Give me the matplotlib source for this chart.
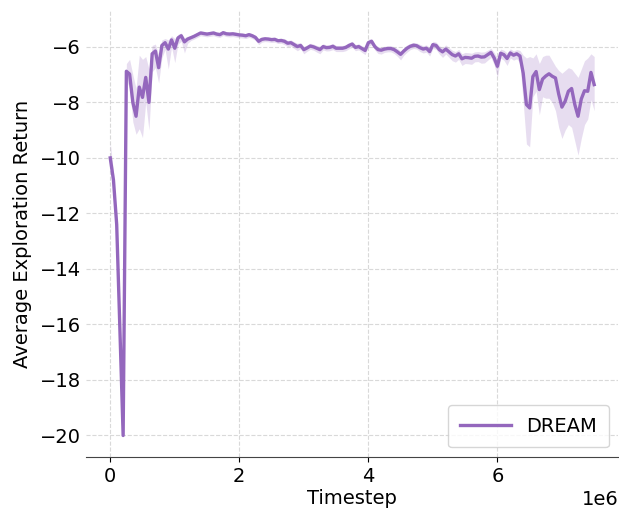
import numpy as np
import matplotlib
matplotlib.use("Agg")
import matplotlib.pyplot as plt

# evaluation every 50k steps
timesteps = np.arange(0, 7_550_000, 50_000)

mean_return = [
    -10.0, -10.8, -12.4, -16.2, -20.0, -6.88, -6.98, -8.0, -8.5, -7.45,
    -7.82, -7.1, -8.0, -6.25, -6.15, -6.75, -5.95, -5.85, -6.08, -5.75,
    -6.05, -5.68, -5.6, -5.82, -5.72, -5.67, -5.62, -5.56, -5.5, -5.52,
    -5.54, -5.52, -5.5, -5.54, -5.56, -5.49, -5.53, -5.54, -5.53, -5.55,
    -5.57, -5.58, -5.6, -5.56, -5.6, -5.66, -5.8, -5.73, -5.71, -5.72,
    -5.74, -5.73, -5.78, -5.77, -5.8, -5.87, -5.85, -5.92, -5.99, -5.95,
    -6.1, -6.04, -5.97, -6.0, -6.05, -6.1, -5.99, -6.03, -6.02, -5.98,
    -6.05, -6.05, -6.05, -6.02, -5.95, -5.9, -6.02, -5.99, -6.06, -6.13,
    -5.85, -5.8, -5.99, -6.1, -6.12, -6.08, -6.06, -6.06, -6.1, -6.18,
    -6.27, -6.15, -6.05, -5.98, -5.94, -5.96, -6.03, -6.08, -6.05, -6.17,
    -5.92, -5.95, -6.1, -6.18, -6.08, -6.18, -6.28, -6.33, -6.25, -6.43,
    -6.38, -6.39, -6.41, -6.34, -6.33, -6.37, -6.36, -6.28, -6.2, -6.4,
    -6.7, -6.23, -6.28, -6.42, -6.22, -6.3, -6.25, -6.33, -6.95, -8.08,
    -8.2, -7.07, -6.89, -7.54, -7.16, -7.05, -6.97, -7.06, -7.12, -7.7,
    -8.17, -7.96, -7.6, -7.5, -8.08, -8.5, -7.88, -7.58, -7.6, -6.92,
    -7.36,
]

# distance from the mean to the upper / lower edge of the confidence band
err_hi = [
    0.55, 0.3, 0.1, 0.1, 0.05, 0.28, 0.53, 1.0, 1.0, 1.15,
    1.37, 0.75, 1.2, 0.3, 0.25, 0.45, 0.2, 0.15, 0.33, 0.15,
    0.35, 0.13, 0.1, 0.15, 0.1, 0.08, 0.08, 0.08, 0.08, 0.08,
    0.08, 0.08, 0.08, 0.08, 0.08, 0.08, 0.08, 0.08, 0.08, 0.08,
    0.08, 0.08, 0.08, 0.08, 0.08, 0.08, 0.1, 0.08, 0.08, 0.08,
    0.08, 0.08, 0.08, 0.08, 0.1, 0.1, 0.1, 0.1, 0.12, 0.1,
    0.12, 0.1, 0.1, 0.1, 0.1, 0.12, 0.1, 0.1, 0.1, 0.1,
    0.1, 0.1, 0.1, 0.1, 0.1, 0.1, 0.1, 0.1, 0.1, 0.12,
    0.12, 0.1, 0.1, 0.1, 0.12, 0.1, 0.1, 0.1, 0.1, 0.12,
    0.12, 0.12, 0.12, 0.1, 0.1, 0.1, 0.12, 0.12, 0.12, 0.14,
    0.12, 0.12, 0.14, 0.15, 0.15, 0.15, 0.16, 0.16, 0.16, 0.18,
    0.18, 0.18, 0.18, 0.16, 0.16, 0.18, 0.18, 0.16, 0.15, 0.2,
    0.3, 0.15, 0.16, 0.2, 0.15, 0.15, 0.15, 0.2, 0.65, 1.68,
    1.85, 0.67, 0.64, 0.94, 0.81, 0.75, 0.67, 0.56, 0.42, 0.85,
    1.22, 1.11, 0.85, 0.7, 1.13, 1.4, 1.08, 1.08, 1.2, 0.67,
    1.01,
]
err_lo = [
    0.1, 0.1, 0.1, 0.1, 0.05, 0.32, 0.52, 0.7, 0.65, 1.5,
    1.45, 0.9, 1.0, 0.65, 0.6, 0.55, 0.45, 0.25, 0.72, 0.25,
    0.52, 0.22, 0.2, 0.4, 0.15, 0.1, 0.1, 0.1, 0.1, 0.1,
    0.1, 0.1, 0.1, 0.1, 0.1, 0.1, 0.1, 0.1, 0.1, 0.1,
    0.1, 0.1, 0.1, 0.1, 0.1, 0.1, 0.12, 0.1, 0.1, 0.1,
    0.1, 0.1, 0.1, 0.1, 0.12, 0.12, 0.12, 0.14, 0.15, 0.12,
    0.15, 0.12, 0.12, 0.12, 0.14, 0.15, 0.12, 0.12, 0.12, 0.12,
    0.12, 0.12, 0.12, 0.12, 0.12, 0.12, 0.12, 0.12, 0.14, 0.15,
    0.14, 0.12, 0.12, 0.14, 0.14, 0.12, 0.12, 0.12, 0.14, 0.16,
    0.2, 0.15, 0.14, 0.12, 0.12, 0.12, 0.14, 0.14, 0.14, 0.16,
    0.14, 0.14, 0.16, 0.2, 0.18, 0.2, 0.22, 0.22, 0.2, 0.24,
    0.22, 0.22, 0.22, 0.2, 0.2, 0.22, 0.22, 0.2, 0.18, 0.25,
    0.4, 0.18, 0.2, 0.25, 0.18, 0.18, 0.18, 0.25, 1.05, 1.42,
    1.4, 0.73, 0.71, 0.91, 0.64, 0.8, 0.88, 0.94, 1.18, 1.2,
    1.13, 1.04, 1.2, 1.4, 1.32, 1.4, 1.42, 1.22, 1.0, 0.98,
    0.94,
]

color = "#9467bd"
mean = np.array(mean_return)
upper = mean + np.array(err_hi)
lower = mean - np.array(err_lo)

plt.rcParams["font.family"] = "DejaVu Sans"
fig, ax = plt.subplots(figsize=(6.19, 5.08), dpi=100)
fig.subplots_adjust(left=0.139, right=0.999, bottom=0.1, top=0.98)

ax.fill_between(timesteps, lower, upper, color=color, alpha=0.22, linewidth=0)
ax.plot(timesteps, mean, color=color, linewidth=2.4, label="DREAM")

ax.set_xlabel("Timestep", fontsize=14, labelpad=2)
ax.set_ylabel("Average Exploration Return", fontsize=14, labelpad=6)
ax.set_xticks([0, 2_000_000, 4_000_000, 6_000_000])
ax.set_yticks(np.arange(-20, -5, 2))
ax.tick_params(axis="both", labelsize=14)
ax.tick_params(axis="y", length=0)
ax.xaxis.get_offset_text().set_fontsize(14)

ax.grid(True, linestyle="--", color="#d9d9d9", linewidth=0.8)
ax.set_axisbelow(True)
for side in ["top", "right", "left"]:
    ax.spines[side].set_visible(False)
ax.spines["bottom"].set_color("#444444")

leg = ax.legend(loc="lower right", fontsize=14, handlelength=2.6,
                borderpad=0.6, framealpha=0.8)
leg.get_frame().set_edgecolor("#cccccc")

fig.savefig("out.png", dpi=100)
